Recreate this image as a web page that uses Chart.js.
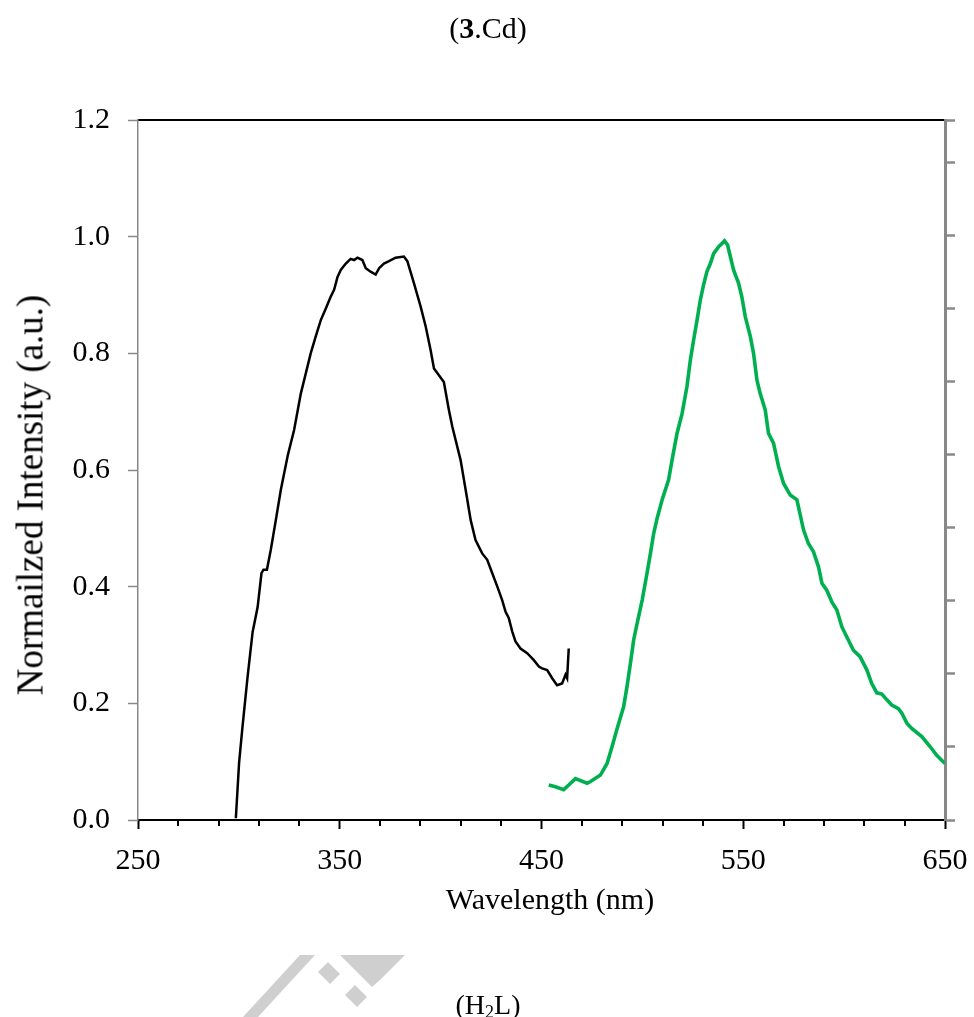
<!DOCTYPE html>
<html>
<head>
<meta charset="utf-8">
<script src="https://cdn.jsdelivr.net/npm/chart.js@4/dist/chart.umd.min.js"></script>
<style>
  body { margin: 0; background: #fff; }
  #wrap { position: relative; width: 974px; height: 1017px; font-family: "Liberation Serif", "Times New Roman", serif; color: #000; }
  #chart { position: absolute; left: 0; top: 0; }
  .lbl { position: absolute; white-space: nowrap; line-height: 1; }
  #title { left: 488px; top: 13px; font-size: 30px; transform: translateX(-50%); }
  #xTitle { left: 550px; top: 884px; font-size: 30px; transform: translateX(-50%); }
  #yTitle { left: 30px; top: 495px; font-size: 37px; transform: translate(-50%, -50%) rotate(-90deg); }
  #note { left: 488px; top: 991px; font-size: 28px; transform: translateX(-50%); }
  #note sub { font-size: 18px; vertical-align: -4px; line-height: 0; }
  #mark { position: absolute; left: 0; top: 0; }
</style>
</head>
<body>
<div id="wrap">
  <svg id="mark" width="974" height="1017">
    <g fill="#cfcfcf">
      <polygon points="300,955 315,955 258,1017 243,1017"/>
      <polygon points="318,972 328,962 340,974 330,984"/>
      <polygon points="345,995 355,985 367,997 357,1007"/>
      <polygon points="340,955 405,955 380,980 372,987 365,980"/>
    </g>
  </svg>
  <canvas id="chart" width="974" height="1017"></canvas>
  <div class="lbl" id="title">(<b>3</b>.Cd)</div>
  <div class="lbl" id="xTitle">Wavelength (nm)</div>
  <div class="lbl" id="yTitle">Normailzed Intensity (a.u.)</div>
  <div class="lbl" id="note">(H<sub>2</sub>L)</div>
</div>
<script>
// excitation spectrum (black)
const excWavelength = [298.5, 300.1, 301.8, 304.3, 306.8, 309.3, 311.2, 312.2, 313.9, 315.8,
  318.3, 320.8, 324.3, 327.4, 330.7, 333.2, 335.6, 338.1, 340.6, 343.1,
  345.5, 347.2, 348.9, 350.5, 353.0, 355.4, 357.1, 358.8, 361.2, 362.9,
  365.3, 367.8, 369.5, 371.9, 374.4, 377.7, 381.8, 383.5, 386.8, 390.1,
  392.6, 395.0, 396.7, 401.6, 404.1, 405.8, 409.9, 412.4, 414.9, 417.3,
  420.6, 423.1, 425.6, 428.1, 430.5, 432.2, 433.8, 435.5, 437.1, 439.6,
  442.9, 446.2, 448.7, 450.3, 452.8, 455.3, 457.7, 460.2, 461.9, 462.7, 463.5];
const excIntensity = [0.003, 0.098, 0.160, 0.245, 0.322, 0.365, 0.423, 0.429, 0.429, 0.463,
  0.514, 0.566, 0.626, 0.669, 0.731, 0.766, 0.800, 0.829, 0.857, 0.877,
  0.897, 0.909, 0.931, 0.943, 0.954, 0.962, 0.960, 0.964, 0.960, 0.946,
  0.940, 0.935, 0.946, 0.954, 0.958, 0.964, 0.966, 0.958, 0.920, 0.880,
  0.846, 0.806, 0.774, 0.751, 0.703, 0.674, 0.617, 0.566, 0.514, 0.480,
  0.457, 0.446, 0.423, 0.400, 0.377, 0.357, 0.346, 0.323, 0.306, 0.294,
  0.286, 0.274, 0.263, 0.260, 0.257, 0.243, 0.231, 0.234, 0.249, 0.243, 0.294];

// emission spectrum (green)
const emWavelength = [453.6, 456.9, 461.0, 463.5, 466.8, 472.6, 474.3, 479.2, 482.5, 485.0,
  487.5, 490.7, 492.4, 494.1, 495.7, 497.4, 499.9, 502.3, 504.0, 505.6,
  507.3, 509.8, 513.0, 514.7, 517.2, 519.7, 522.1, 523.8, 525.4, 527.1,
  528.7, 530.3, 532.0, 533.7, 535.3, 537.8, 539.4, 540.7, 542.2, 543.6,
  545.2, 547.7, 549.3, 551.0, 553.5, 555.1, 556.8, 558.4, 560.9, 562.5,
  565.0, 567.5, 570.0, 573.3, 576.6, 579.9, 582.3, 584.8, 587.3, 589.0,
  591.4, 593.9, 596.4, 598.9, 601.3, 604.6, 607.9, 611.3, 613.7, 616.2,
  618.7, 621.2, 623.6, 626.9, 628.6, 631.1, 633.5, 638.5, 642.6, 645.9, 650.0];
const emIntensity = [0.060, 0.057, 0.052, 0.060, 0.071, 0.063, 0.066, 0.077, 0.097, 0.126,
  0.157, 0.194, 0.229, 0.269, 0.309, 0.337, 0.377, 0.423, 0.457, 0.491,
  0.517, 0.549, 0.583, 0.617, 0.663, 0.697, 0.743, 0.789, 0.823, 0.857,
  0.891, 0.917, 0.940, 0.954, 0.971, 0.983, 0.988, 0.993, 0.986, 0.966,
  0.943, 0.920, 0.897, 0.863, 0.829, 0.800, 0.754, 0.731, 0.703, 0.663,
  0.646, 0.606, 0.577, 0.557, 0.549, 0.497, 0.474, 0.460, 0.434, 0.406,
  0.394, 0.374, 0.360, 0.331, 0.314, 0.291, 0.280, 0.257, 0.234, 0.218,
  0.216, 0.206, 0.197, 0.191, 0.183, 0.166, 0.157, 0.143, 0.126, 0.111, 0.097];

// axes
const xMin = 250, xMax = 650, xMajor = 100, xMinor = 20;
const yMin = 0, yMax = 1.2, yStep = 0.2;

const toPoints = (xs, ys) => xs.map((x, i) => ({ x: x, y: ys[i] }));
const isMajor = (v) => Math.abs((v - xMin) % xMajor) < 1e-6;
const FONT = "'Liberation Serif', 'Times New Roman', serif";

// short minor ticks under the x axis
const minorTicks = {
  id: "minorTicks",
  afterDraw(chart) {
    const { ctx, chartArea, scales } = chart;
    ctx.save();
    ctx.strokeStyle = "#000";
    ctx.lineWidth = 2;
    for (let v = xMin + xMinor; v < xMax; v += xMinor) {
      if (isMajor(v)) continue;
      const px = Math.round(scales.x.getPixelForValue(v));
      ctx.beginPath();
      ctx.moveTo(px, chartArea.bottom);
      ctx.lineTo(px, chartArea.bottom + 6);
      ctx.stroke();
    }
    ctx.restore();
  },
};

new Chart(document.getElementById("chart"), {
  type: "scatter",
  data: {
    datasets: [
      {
        data: toPoints(excWavelength, excIntensity),
        showLine: true,
        borderColor: "#000",
        borderWidth: 2.5,
        pointRadius: 0,
        tension: 0,
      },
      {
        data: toPoints(emWavelength, emIntensity),
        showLine: true,
        borderColor: "#00b050",
        borderWidth: 3.6,
        pointRadius: 0,
        tension: 0,
      },
    ],
  },
  options: {
    responsive: false,
    animation: false,
    layout: { padding: { top: 120, left: 0, right: 0, bottom: 0 } },
    plugins: { legend: { display: false }, tooltip: { enabled: false } },
    scales: {
      x: {
        type: "linear",
        position: "bottom",
        min: xMin,
        max: xMax,
        afterBuildTicks(scale) {
          const t = [];
          for (let v = xMin; v <= xMax; v += xMinor) t.push({ value: v });
          scale.ticks = t;
        },
        ticks: {
          autoSkip: false,
          maxRotation: 0,
          padding: 14,
          color: "#000",
          font: { family: FONT, size: 30 },
          callback: (v) => (isMajor(v) ? v : ""),
        },
        grid: {
          drawOnChartArea: false,
          tickLength: 9,
          tickWidth: 2,
          tickColor: (c) => (c.tick && isMajor(c.tick.value) ? "#000" : "rgba(0,0,0,0)"),
        },
        border: { color: "#000", width: 2 },
        afterFit(scale) {
          scale.height = 197;
          scale.paddingLeft = 0;
          scale.paddingRight = 0;
        },
      },
      xTop: {
        type: "linear",
        position: "top",
        min: xMin,
        max: xMax,
        ticks: { display: false },
        grid: { drawOnChartArea: false, drawTicks: false },
        border: { color: "#000", width: 2 },
        afterFit(scale) {
          scale.height = 0;
          scale.paddingLeft = 0;
          scale.paddingRight = 0;
        },
      },
      y: {
        min: yMin,
        max: yMax,
        ticks: {
          stepSize: yStep,
          padding: 18,
          color: "#000",
          font: { family: FONT, size: 30 },
          callback: (v) => v.toFixed(1),
        },
        grid: { drawOnChartArea: false, tickLength: 10, tickWidth: 1.5, tickColor: "#888" },
        border: { color: "#888", width: 1.5 },
        afterFit(scale) {
          scale.width = 138;
          scale.paddingTop = 0;
          scale.paddingBottom = 0;
        },
      },
      yRight: {
        position: "right",
        min: 0,
        max: 9.576,
        ticks: { display: false, stepSize: 1 },
        grid: { drawOnChartArea: false, tickLength: 10, tickWidth: 2.5, tickColor: "#888" },
        border: { color: "#888", width: 3 },
        afterFit(scale) {
          scale.width = 29;
          scale.paddingTop = 0;
          scale.paddingBottom = 0;
        },
      },
    },
  },
  plugins: [minorTicks],
});
</script>
</body>
</html>
